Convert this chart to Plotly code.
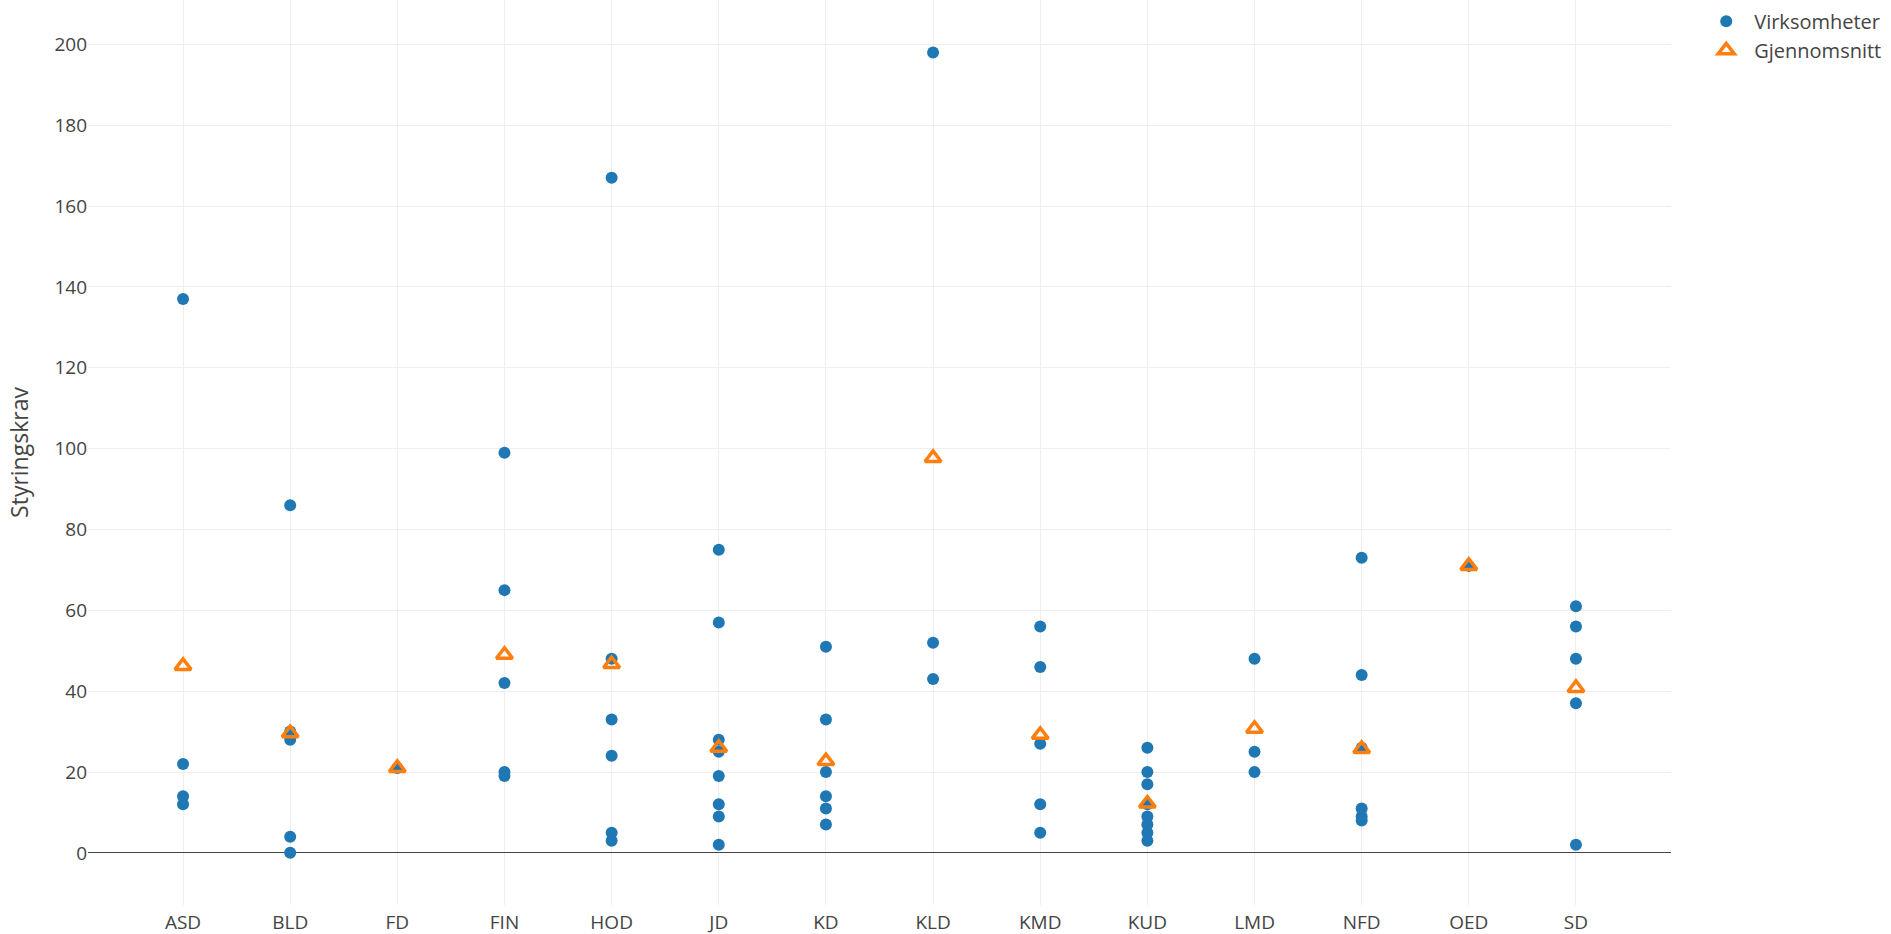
import plotly.graph_objects as go

categories = ["ASD", "BLD", "FD", "FIN", "HOD", "JD", "KD", "KLD", "KMD", "KUD", "LMD", "NFD", "OED", "SD"]

# Virksomheter (individual agencies): category and value pairs
virk_cat = (["ASD"] * 4 + ["BLD"] * 5 + ["FD"] + ["FIN"] * 5 + ["HOD"] * 6 + ["JD"] * 8 +
            ["KD"] * 6 + ["KLD"] * 3 + ["KMD"] * 5 + ["KUD"] * 8 + ["LMD"] * 3 + ["NFD"] * 6 +
            ["OED"] + ["SD"] * 5)
virk_val = ([137, 22, 14, 12] +
            [86, 30, 28, 4, 0] +
            [21] +
            [99, 65, 42, 20, 19] +
            [167, 48, 33, 24, 5, 3] +
            [75, 57, 28, 25, 19, 12, 9, 2] +
            [51, 33, 20, 14, 11, 7] +
            [198, 52, 43] +
            [56, 46, 27, 12, 5] +
            [26, 20, 17, 12, 9, 7, 5, 3] +
            [48, 25, 20] +
            [73, 44, 26, 11, 9, 8] +
            [71] +
            [61, 56, 48, 37, 2])

# Gjennomsnitt (average per ministry)
snitt_val = [46.25, 29.6, 21, 49, 46.7, 26.0, 22.7, 97.7, 29.2, 12.2, 30.7, 25.7, 71, 40.8]

fig = go.Figure()
fig.add_trace(go.Scatter(
    x=virk_cat, y=virk_val, mode="markers", name="Virksomheter",
    marker=dict(color="#1f77b4", size=12, line=dict(width=0)),
))
fig.add_trace(go.Scatter(
    x=categories, y=snitt_val, mode="markers", name="Gjennomsnitt",
    marker=dict(color="#ff7f0e", size=14, symbol="triangle-up-open",
                line=dict(width=3.5, color="#ff7f0e")),
))

fig.update_layout(
    template="none",
    width=1891, height=934,
    margin=dict(l=88, r=220, t=0, b=29, pad=0),
    paper_bgcolor="white", plot_bgcolor="white",
    font=dict(family="Open Sans", size=19, color="#444"),
    showlegend=True,
    legend=dict(x=1.0172, y=0.998, xanchor="left", yanchor="top", itemwidth=46,
                font=dict(family="Open Sans", size=20, color="#444"),
                bgcolor="rgba(0,0,0,0)"),
    xaxis=dict(type="category", categoryorder="array", categoryarray=categories,
               range=[-0.887, 13.887], showgrid=True, gridcolor="#eee", gridwidth=1,
               zeroline=False, showline=False, ticks="", ticklabelstandoff=4,
               tickfont=dict(family="Open Sans", size=19, color="#444")),
    yaxis=dict(range=[-12.9, 211], dtick=20, tick0=0, showgrid=True, gridcolor="#eee",
               gridwidth=1, zeroline=True, zerolinecolor="#444", zerolinewidth=1,
               showline=False, ticks="",
               tickfont=dict(family="Open Sans", size=19, color="#444"),
               title=dict(text="Styringskrav", standoff=19,
                          font=dict(family="Open Sans", size=23, color="#444"))),
)

fig.write_html("out.html", config={"displayModeBar": False},
               post_script="document.body.style.margin='0';document.body.style.overflow='hidden';")
